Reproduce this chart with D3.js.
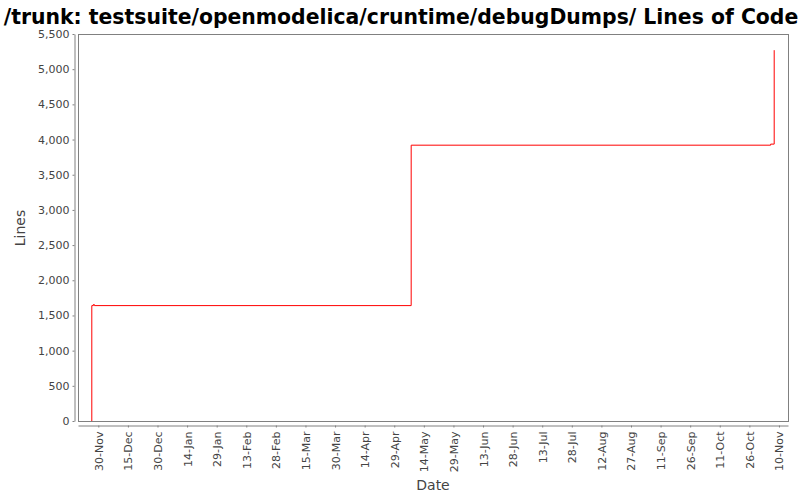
<!DOCTYPE html>
<html><head><meta charset="utf-8">
<script src="https://cdn.jsdelivr.net/npm/d3@7"></script>
<style>body{margin:0;background:#fff}svg{display:block}</style>
</head><body><svg id="c" width="800" height="500"></svg>
<script>
const titleText = "/trunk: testsuite/openmodelica/cruntime/debugDumps/ Lines of Code";
const dates = ["2010-11-26T15:00","2010-11-26T17:00","2010-11-27T12:00","2010-11-28T00:00","2011-05-07T14:00","2011-11-05T19:00","2011-11-07T14:00"];
const lines = [0, 1640, 1655, 1640, 3920, 3935, 5270];
const xTickDates = ["2010-11-30","2010-12-15","2010-12-30","2011-01-14","2011-01-29","2011-02-13","2011-02-28","2011-03-15","2011-03-30","2011-04-14","2011-04-29","2011-05-14","2011-05-29","2011-06-13","2011-06-28","2011-07-13","2011-07-28","2011-08-12","2011-08-27","2011-09-11","2011-09-26","2011-10-11","2011-10-26","2011-11-10"];
const xTickLabels = ["30-Nov","15-Dec","30-Dec","14-Jan","29-Jan","13-Feb","28-Feb","15-Mar","30-Mar","14-Apr","29-Apr","14-May","29-May","13-Jun","28-Jun","13-Jul","28-Jul","12-Aug","27-Aug","11-Sep","26-Sep","11-Oct","26-Oct","10-Nov"];
const yTicks = [0,500,1000,1500,2000,2500,3000,3500,4000,4500,5000,5500];
const xDomain = ["2010-11-19T17:00","2011-11-14T14:00"];

const parse = d3.isoParse;
const svg = d3.select("#c");
const L = 78, R = 788, T = 34, B = 421;
const x = d3.scaleTime().domain(xDomain.map(parse)).range([L, R]);
const y = d3.scaleLinear().domain([0, 5500]).range([B, T]);
const font = "DejaVu Sans, sans-serif";

svg.append("text").attr("x", 401).attr("y", 24).attr("text-anchor", "middle")
  .attr("font-family", font).attr("font-weight", "bold").attr("font-size", 20.4).attr("fill", "#000").text(titleText);

// plot frame
svg.append("rect").attr("x", L).attr("y", T).attr("width", R - L).attr("height", B - T)
  .attr("fill", "#fff").attr("stroke", "#808080").attr("stroke-width", 1).attr("shape-rendering", "crispEdges");

// y axis
const yAxis = d3.axisLeft(y).tickValues(yTicks).tickFormat(d3.format(",")).tickSizeInner(2).tickSizeOuter(0).tickPadding(3);
const gy = svg.append("g").attr("transform", "translate(74.5,0)").call(yAxis);
gy.select(".domain").attr("stroke", "#808080");
gy.selectAll(".tick line").attr("stroke", "#808080");
gy.selectAll("text").attr("font-family", font).attr("font-size", 11).attr("fill", "#444");

// x axis
const xAxis = d3.axisBottom(x).tickValues(xTickDates.map(parse)).tickFormat((d, i) => xTickLabels[i]).tickSizeInner(2).tickSizeOuter(0).tickPadding(4);
const gx = svg.append("g").attr("transform", "translate(0,425.5)").call(xAxis);
gx.select(".domain").attr("stroke", "#808080");
gx.selectAll(".tick line").attr("stroke", "#808080");
gx.selectAll("text").attr("font-family", font).attr("font-size", 11).attr("fill", "#444")
  .attr("text-anchor", "end").attr("dy", null).attr("transform", "translate(4,6) rotate(-90)").attr("x", 0).attr("y", 0);

// axis labels
svg.append("text").attr("transform", "translate(25,228) rotate(-90)").attr("text-anchor", "middle")
  .attr("font-family", font).attr("font-size", 14).attr("fill", "#444").text("Lines");
svg.append("text").attr("x", 433).attr("y", 490).attr("text-anchor", "middle")
  .attr("font-family", font).attr("font-size", 14).attr("fill", "#444").text("Date");

// line
const data = dates.map((d, i) => ({ d: parse(d), v: lines[i] }));
const line = d3.line().x(d => x(d.d)).y(d => y(d.v)).curve(d3.curveStepAfter);
svg.append("path").datum(data).attr("d", line).attr("fill", "none").attr("stroke", "#ff0000").attr("stroke-width", 1);
</script></body></html>
